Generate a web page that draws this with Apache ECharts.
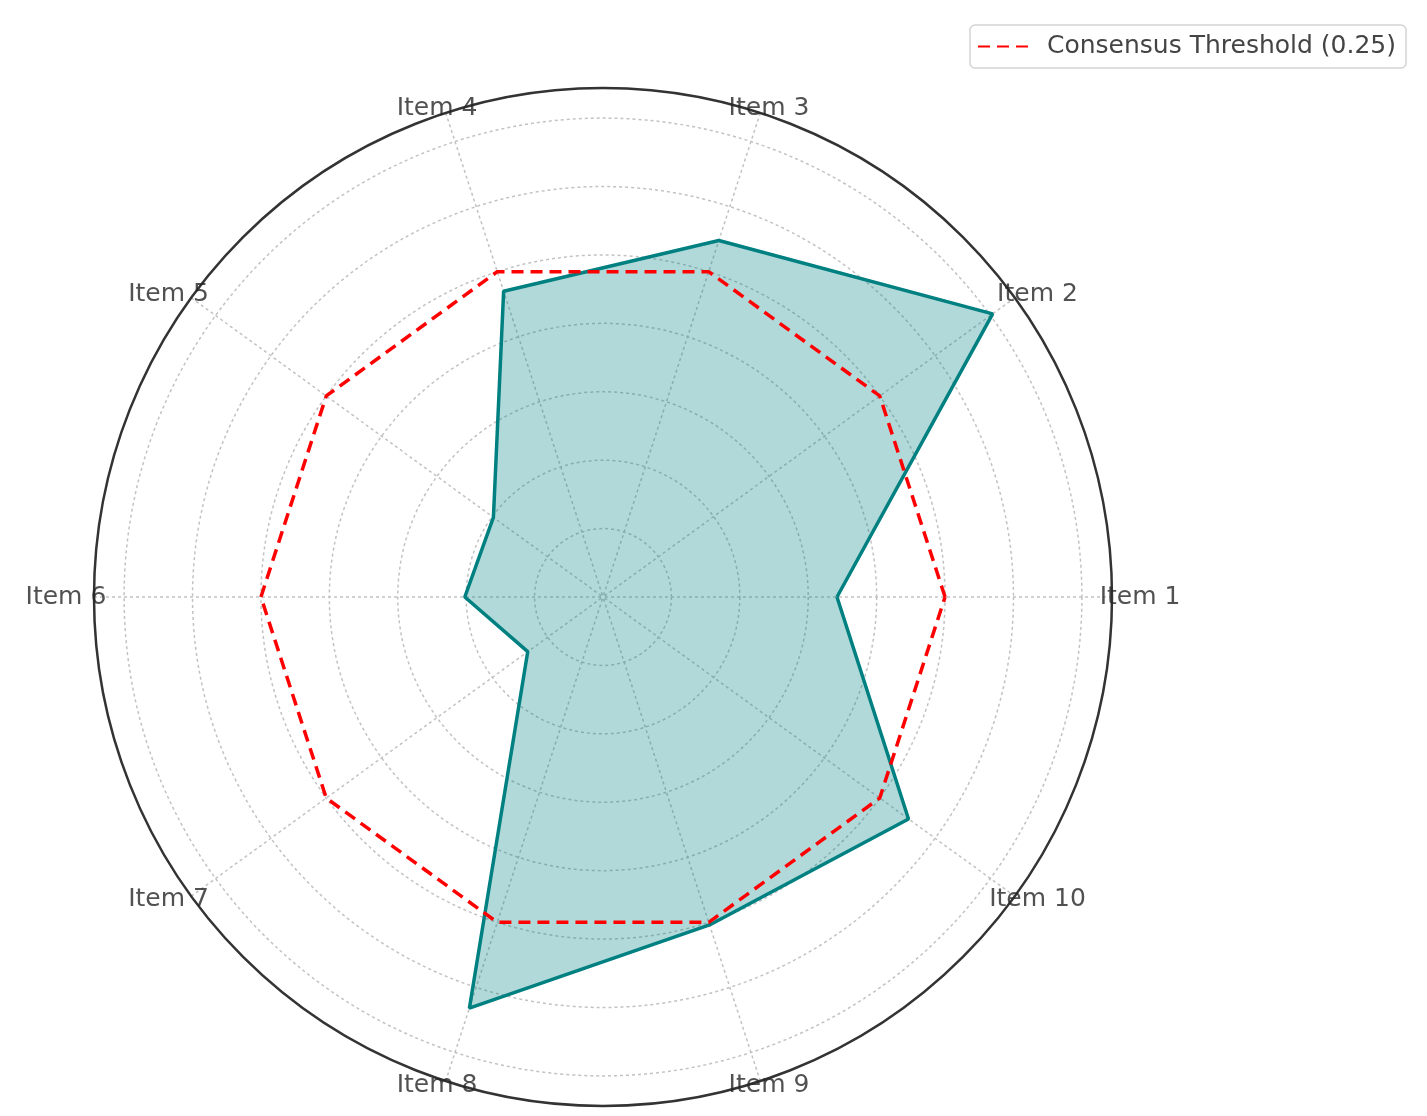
<!DOCTYPE html>
<html><head><meta charset="utf-8">
<script src="https://cdn.jsdelivr.net/npm/echarts@6/dist/echarts.min.js"></script>
<style>html,body{margin:0;padding:0;background:#fff}#c{width:1427px;height:1116px}</style>
</head><body><div id="c"></div>
<script>
const categories = ['Item 1','Item 2','Item 3','Item 4','Item 5','Item 6','Item 7','Item 8','Item 9','Item 10'];
const scores = [0.171, 0.352, 0.274, 0.235, 0.099, 0.101, 0.068, 0.316, 0.252, 0.276];
const thresholdValue = 0.25;
const thresholdName = 'Consensus Threshold (0.25)';
const radiusMax = 0.372;
const radiusInterval = 0.05;

const step = 360 / categories.length;
const angleOf = i => i * step;
const closeLoop = vals => vals.map((v, i) => [v, angleOf(i)]).concat([[vals[0], angleOf(0)]]);
const thresholdValues = categories.map(() => thresholdValue);
// tick-label ring (radius-axis units), pushed a bit further out sideways
const labelRingRadius = 0.3757;
const labelSideShift = 23;

const chart = echarts.init(document.getElementById('c'), null, {renderer: 'canvas'});
const font = "'DejaVu Sans', sans-serif";
const grid = {color: '#c2c2c2', width: 1.5, type: [3, 3]};
chart.setOption({
  animation: false,
  backgroundColor: '#fff',
  polar: {center: [603, 597], radius: 509},
  angleAxis: {
    type: 'value', min: 0, max: 360, interval: step, startAngle: 0, clockwise: false,
    axisLine: {show: true, lineStyle: {color: '#333', width: 2.5}},
    axisTick: {show: false}, axisLabel: {show: false},
    splitLine: {show: true, lineStyle: grid}
  },
  radiusAxis: {
    type: 'value', min: 0, max: radiusMax, interval: radiusInterval,
    axisLine: {show: false}, axisTick: {show: false}, axisLabel: {show: false},
    splitLine: {show: true, lineStyle: grid}
  },
  legend: {
    data: [{name: thresholdName, itemStyle: {opacity: 0}}], right: 21, top: 25,
    backgroundColor: '#fff', borderColor: '#d4d4d4', borderWidth: 1.5, borderRadius: 5,
    padding: [9, 10, 9, 7], itemWidth: 52, itemHeight: 14,
    textStyle: {fontFamily: font, fontSize: 25, color: '#444', padding: [0, 0, 0, 12]}
  },
  series: [
    {
      name: 'labels', type: 'scatter', coordinateSystem: 'polar', silent: true, clip: false,
      symbolSize: 1, itemStyle: {color: 'rgba(0,0,0,0)'},
      data: categories.map((c, i) => ({
        value: [labelRingRadius, angleOf(i), c],
        label: {offset: [labelSideShift * Math.cos(angleOf(i) * Math.PI / 180), 0]}
      })),
      label: {show: true, position: 'inside', formatter: p => p.data.value[2],
        fontFamily: font, fontSize: 25, color: '#262626'}
    },
    {
      name: 'Scores', type: 'line', coordinateSystem: 'polar', symbol: 'none', z: 3, clip: false,
      data: closeLoop(scores),
      lineStyle: {color: '#008080', width: 3.5},
      areaStyle: {color: '#008080', opacity: 0.3}
    },
    {
      name: thresholdName, type: 'line', coordinateSystem: 'polar', symbol: 'none', z: 4, clip: false,
      data: closeLoop(thresholdValues),
      itemStyle: {color: '#ff0000'},
      lineStyle: {color: '#ff0000', width: 3.5, type: [12, 7]}
    }
  ]
});
</script></body></html>
